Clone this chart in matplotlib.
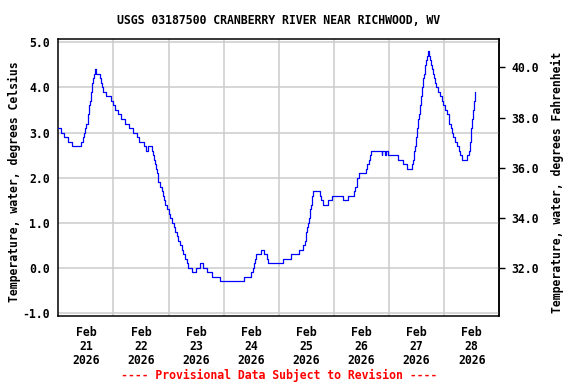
import numpy as np
import matplotlib
matplotlib.use("Agg")
import matplotlib.pyplot as plt

# water temperature, deg C, step data
# days counted from Feb 21 2026 00:00
days = [0.00, 0.05, 0.11, 0.18, 0.25, 0.41, 0.44, 0.46, 0.49, 0.51, 0.53, 0.54,
        0.55, 0.565, 0.575, 0.585, 0.595, 0.605, 0.615, 0.63, 0.645, 0.67, 0.69,
        0.75, 0.77, 0.79, 0.81, 0.87, 0.95, 0.99, 1.02, 1.08, 1.13, 1.21, 1.29,
        1.36, 1.43, 1.47, 1.56, 1.59, 1.63, 1.70, 1.715, 1.73, 1.75, 1.77, 1.785,
        1.80, 1.815, 1.846, 1.876, 1.906, 1.925, 1.942, 1.978, 2.005, 2.03, 2.06,
        2.09, 2.12, 2.145, 2.175, 2.21, 2.24, 2.27, 2.30, 2.33, 2.36, 2.42, 2.49,
        2.57, 2.63, 2.69, 2.78, 2.93, 3.36, 3.50, 3.54, 3.555, 3.57, 3.59, 3.67,
        3.74, 3.78, 3.81, 4.08, 4.22, 4.37, 4.43, 4.47, 4.49, 4.50, 4.52, 4.535,
        4.55, 4.565, 4.575, 4.585, 4.595, 4.605, 4.62, 4.74, 4.76, 4.80, 4.89,
        4.96, 5.17, 5.25, 5.36, 5.385, 5.41, 5.425, 5.45, 5.58, 5.60, 5.63, 5.65,
        5.67, 5.87, 5.875, 5.935, 5.94, 5.99, 6.17, 6.25, 6.32, 6.42, 6.435,
        6.445, 6.46, 6.47, 6.48, 6.49, 6.50, 6.51, 6.52, 6.53, 6.545, 6.555,
        6.565, 6.575, 6.585, 6.59, 6.60, 6.61, 6.62, 6.635, 6.645, 6.655, 6.67,
        6.685, 6.70, 6.725, 6.74, 6.755, 6.78, 6.805, 6.82, 6.835, 6.85, 6.88,
        6.93, 6.955, 6.985, 7.01, 7.06, 7.08, 7.095, 7.115, 7.14, 7.165, 7.20,
        7.23, 7.26, 7.29, 7.32, 7.42, 7.445, 7.46, 7.47, 7.478, 7.485, 7.49,
        7.50, 7.51, 7.52, 7.53, 7.54, 7.55, 7.56, 7.568]
temp_c = [3.1, 3.0, 2.9, 2.8, 2.7, 2.8, 2.9, 3.0, 3.1, 3.2, 3.3, 3.4,
          3.5, 3.6, 3.7, 3.8, 3.9, 4.0, 4.1, 4.2, 4.3, 4.4, 4.3,
          4.2, 4.1, 4.0, 3.9, 3.8, 3.7, 3.6, 3.5, 3.4, 3.3, 3.2, 3.1,
          3.0, 2.9, 2.8, 2.7, 2.6, 2.7, 2.6, 2.5, 2.4, 2.3, 2.2, 2.1,
          2.0, 1.9, 1.8, 1.7, 1.6, 1.5, 1.4, 1.3, 1.2, 1.1, 1.0,
          0.9, 0.8, 0.7, 0.6, 0.5, 0.4, 0.3, 0.2, 0.1, 0.0, -0.1, 0.0,
          0.1, 0.0, -0.1, -0.2, -0.3, -0.2, -0.1, 0.0, 0.1, 0.2, 0.3, 0.4,
          0.3, 0.2, 0.1, 0.2, 0.3, 0.4, 0.5, 0.6, 0.7, 0.8, 0.9, 1.0,
          1.1, 1.2, 1.3, 1.4, 1.5, 1.6, 1.7, 1.6, 1.5, 1.4, 1.5,
          1.6, 1.5, 1.6, 1.7, 1.8, 1.9, 2.0, 2.1, 2.2, 2.3, 2.4, 2.5,
          2.6, 2.5, 2.6, 2.5, 2.6, 2.5, 2.4, 2.3, 2.2, 2.3, 2.4,
          2.5, 2.6, 2.7, 2.8, 2.9, 3.0, 3.1, 3.2, 3.3, 3.4, 3.5,
          3.6, 3.7, 3.8, 3.9, 4.0, 4.1, 4.2, 4.3, 4.4, 4.5, 4.6,
          4.7, 4.8, 4.7, 4.6, 4.5, 4.4, 4.3, 4.2, 4.1, 4.0, 3.9,
          3.8, 3.7, 3.6, 3.5, 3.4, 3.3, 3.2, 3.1, 3.0, 2.9, 2.8,
          2.7, 2.6, 2.5, 2.4, 2.5, 2.6, 2.7, 2.8, 2.9, 3.0, 3.1,
          3.2, 3.3, 3.4, 3.5, 3.6, 3.7, 3.8, 3.9]

day_labels = ["21", "22", "23", "24", "25", "26", "27", "28"]
month = "Feb"
year = "2026"
c_ticks = [-1.0, 0.0, 1.0, 2.0, 3.0, 4.0, 5.0]
f_ticks = [32.0, 34.0, 36.0, 38.0, 40.0]

title = "USGS 03187500 CRANBERRY RIVER NEAR RICHWOOD, WV"
left_label = "Temperature, water, degrees Celsius"
right_label = "Temperature, water, degrees Fahrenheit"
note = "---- Provisional Data Subject to Revision ----"

plt.rcParams['font.family'] = ['DejaVu Sans Mono']
plt.rcParams['font.weight'] = 'bold'
plt.rcParams['font.size'] = 8.3

W, H = 576, 384
fig = plt.figure(figsize=(W / 100, H / 100), dpi=100)
x0, x1, y0, y1 = 58.3, 499.3, 39.3, 316
ax = fig.add_axes([x0 / W, 1 - y1 / H, (x1 - x0) / W, (y1 - y0) / H])

ax.step(days, temp_c, where='post', color='blue', lw=0.9, zorder=3)

ax.set_xlim(0, 8)
ax.set_ylim(-1.067, 5.067)

# labels at noon, grid at midnight
ax.set_xticks(np.arange(len(day_labels)) + 0.5)
ax.set_xticklabels([f"{month}\n{d}\n{year}" for d in day_labels], linespacing=1.1)
ax.set_xticks(np.arange(1, 8), minor=True)
ax.set_yticks(c_ticks)
ax.set_yticklabels([f"{v:.1f}" for v in c_ticks])

ax.grid(False)
ax.grid(which='minor', axis='x', color='#cccccc', lw=1.1)
ax.grid(which='major', axis='y', color='#cccccc', lw=1.1)
ax.tick_params(axis='x', which='both', length=0, pad=7)
ax.tick_params(axis='y', length=0, pad=6)
for s in ax.spines.values():
    s.set_linewidth(1.1)

sec = ax.secondary_yaxis('right', functions=(lambda c: c * 1.8 + 32,
                                             lambda f: (f - 32) / 1.8))
sec.set_yticks(f_ticks)
sec.set_yticklabels([f"{v:.1f}" for v in f_ticks])
sec.tick_params(length=4, width=1.0, pad=5)
sec.spines['right'].set_linewidth(1.1)

cx = (x0 + x1) / 2 / W
fig.text(cx, 1 - 20 / H, title, ha='center', va='center')
fig.text(cx, 1 - 375 / H, note, ha='center', va='center', color='red')
fig.text(14 / W, 1 - 182 / H, left_label, rotation=90, ha='center', va='center')
fig.text(557 / W, 1 - 182 / H, right_label, rotation=90, ha='center', va='center')

fig.savefig("out.png", dpi=100)
